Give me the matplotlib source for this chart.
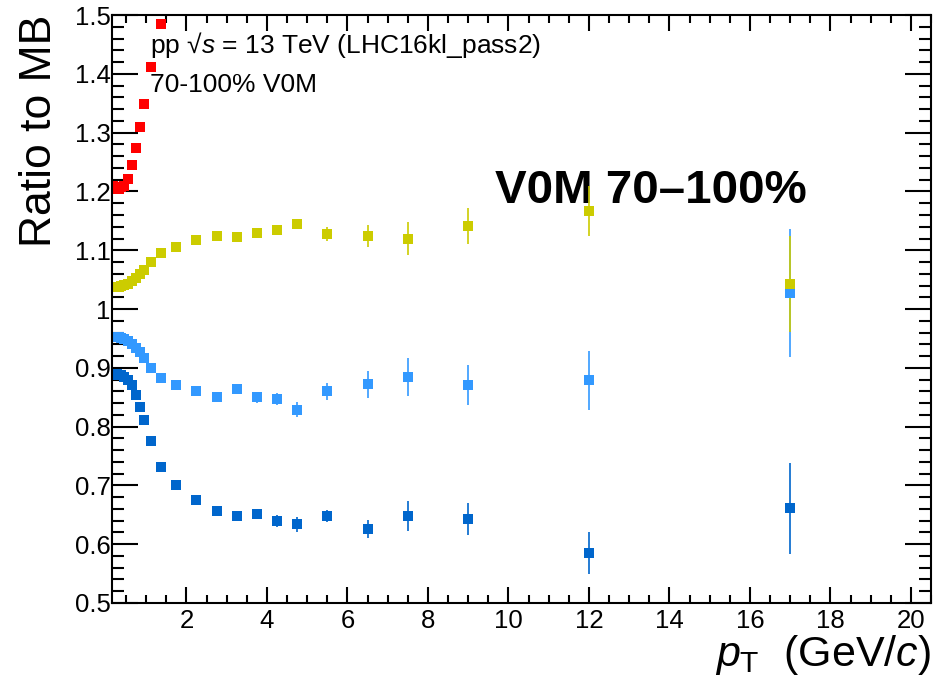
import matplotlib
matplotlib.use('Agg')
import matplotlib.pyplot as plt
from matplotlib.ticker import MultipleLocator, FuncFormatter

plt.rcParams['font.family'] = ['Liberation Sans', 'DejaVu Sans']
plt.rcParams['mathtext.fontset'] = 'custom'
plt.rcParams['mathtext.rm'] = 'Liberation Sans'
plt.rcParams['mathtext.it'] = 'Liberation Sans:italic'
plt.rcParams['mathtext.bf'] = 'Liberation Sans:bold'

# pT bin centres (GeV/c)
pt = [0.175, 0.225, 0.275, 0.325, 0.375, 0.45, 0.55, 0.65, 0.75, 0.85, 0.95,
      1.125, 1.375, 1.75, 2.25, 2.75, 3.25, 3.75, 4.25, 4.75, 5.5, 6.5, 7.5,
      9.0, 12.0, 17.0]

# ratios to MB, one list per species
red_val = [1.210, 1.207, 1.205, 1.205, 1.207, 1.210, 1.222, 1.245, 1.274,
           1.309, 1.349, 1.412, 1.485]
red_err = [0.001] * 13

yellow_val = [1.038, 1.037, 1.037, 1.038, 1.039, 1.041, 1.043, 1.048, 1.053,
              1.060, 1.066, 1.080, 1.095, 1.105, 1.117, 1.124, 1.122, 1.130,
              1.134, 1.145, 1.127, 1.124, 1.120, 1.141, 1.167, 1.043]
yellow_err = [0.001, 0.001, 0.001, 0.001, 0.001, 0.001, 0.001, 0.001, 0.001,
              0.001, 0.001, 0.002, 0.002, 0.002, 0.003, 0.003, 0.004, 0.004,
              0.005, 0.008, 0.012, 0.019, 0.028, 0.031, 0.043, 0.082]

lblue_val = [0.953, 0.953, 0.953, 0.952, 0.951, 0.949, 0.946, 0.941, 0.934,
             0.927, 0.916, 0.899, 0.883, 0.871, 0.861, 0.850, 0.864, 0.850,
             0.847, 0.829, 0.860, 0.872, 0.884, 0.870, 0.879, 1.028]
lblue_err = [0.001, 0.001, 0.001, 0.001, 0.001, 0.001, 0.001, 0.001, 0.001,
             0.001, 0.001, 0.002, 0.002, 0.003, 0.004, 0.005, 0.007, 0.009,
             0.011, 0.013, 0.015, 0.023, 0.032, 0.034, 0.050, 0.109]

dblue_val = [0.888, 0.889, 0.889, 0.888, 0.887, 0.885, 0.880, 0.870, 0.854,
             0.833, 0.811, 0.776, 0.732, 0.701, 0.676, 0.657, 0.648, 0.651,
             0.639, 0.634, 0.648, 0.626, 0.648, 0.643, 0.585, 0.661]
dblue_err = [0.001, 0.001, 0.001, 0.001, 0.001, 0.001, 0.001, 0.001, 0.001,
             0.001, 0.001, 0.002, 0.002, 0.003, 0.004, 0.005, 0.006, 0.008,
             0.010, 0.0125, 0.011, 0.016, 0.025, 0.027, 0.036, 0.077]

fig = plt.figure(figsize=(9.52, 6.87), dpi=100)
ax = fig.add_axes([0.1176, 0.1223, 0.8604, 0.8557])

ms = 7.2
ax.errorbar(pt, dblue_val, yerr=dblue_err, fmt='s', color='#0066cc', ms=ms,
            mew=0, elinewidth=1.2, capsize=0)
ax.errorbar(pt, lblue_val, yerr=lblue_err, fmt='s', color='#3399ff', ms=ms,
            mew=0, elinewidth=1.2, capsize=0)
ax.errorbar(pt, yellow_val, yerr=yellow_err, fmt='s', color='#cccc00', ms=ms,
            mew=0, elinewidth=1.2, capsize=0)
ax.errorbar(pt[:13], red_val, yerr=red_err, fmt='s', color='#ff0000', ms=ms,
            mew=0, elinewidth=1.2, capsize=0)

ax.set_xlim(0.15, 20.5)
ax.set_ylim(0.5, 1.5)

ax.xaxis.set_major_locator(MultipleLocator(2))
ax.xaxis.set_minor_locator(MultipleLocator(0.5))
ax.yaxis.set_major_locator(MultipleLocator(0.1))
ax.yaxis.set_minor_locator(MultipleLocator(0.02))
ax.yaxis.set_major_formatter(FuncFormatter(lambda v, p: ('%.1f' % v).rstrip('0').rstrip('.')))

for s in ax.spines.values():
    s.set_linewidth(1.5)
ax.xaxis.set_tick_params(which='major', direction='in', length=11.5, width=1.5,
                         top=True, labelsize=18.5, pad=4)
ax.xaxis.set_tick_params(which='minor', direction='in', length=5.8, width=1.5, top=True)
ax.yaxis.set_tick_params(which='major', direction='in', length=18.7, width=1.5,
                         right=True, labelsize=18.5, pad=1)
ax.yaxis.set_tick_params(which='minor', direction='in', length=8.6, width=1.5, right=True)

ax.text(0.1576, 0.923, 'pp \u221a$s$ = 13 TeV (LHC16kl_pass2)', transform=fig.transFigure,
        fontsize=19, va='baseline', ha='left')
ax.text(0.1576, 0.866, '70-100% V0M', transform=fig.transFigure,
        fontsize=19, va='baseline', ha='left')
ax.text(0.52, 0.7045, 'V0M 70\u2013100%', transform=fig.transFigure,
        fontsize=34.2, fontweight='bold', va='baseline', ha='left', zorder=0)

fig.text(0.042, 0.978, 'Ratio to MB', rotation=90, ha='center', va='top', fontsize=32)
fig.text(0.978, 0.031, r'$p_{\mathrm{T}}$  (GeV/$c$)', ha='right', va='baseline', fontsize=31)

fig.savefig('out.png', dpi=100)
